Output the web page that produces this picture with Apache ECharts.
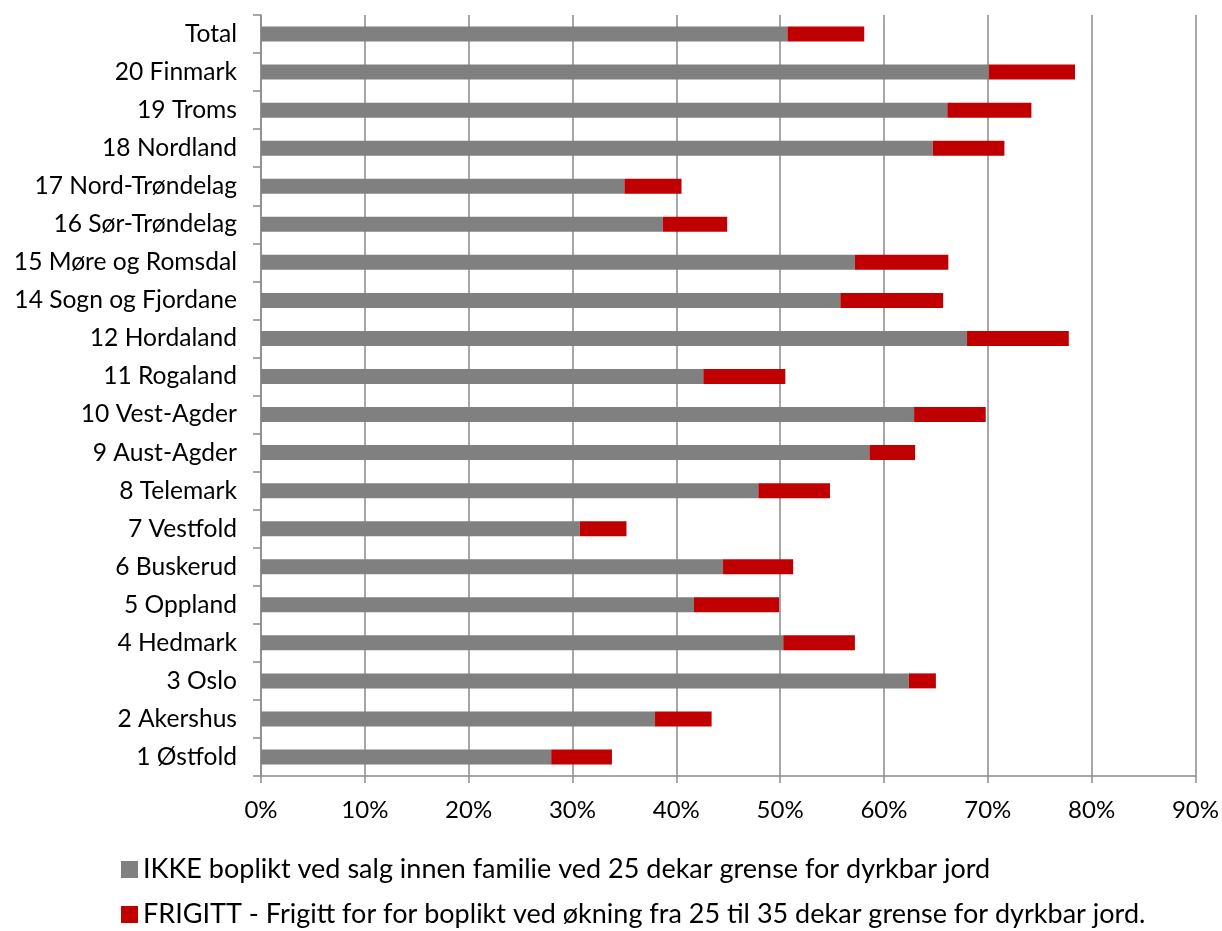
<!DOCTYPE html>
<html>
<head>
<meta charset="utf-8">
<script src="https://cdn.jsdelivr.net/npm/echarts@6/dist/echarts.min.js"></script>
<style>
  html, body { margin: 0; padding: 0; background: #fff; }
  #chart { width: 1222px; height: 931px; }
</style>
</head>
<body>
<div id="chart"></div>
<script>
// Counties, listed top to bottom
const categories = [
  'Total', '20 Finmark', '19 Troms', '18 Nordland', '17 Nord-Trøndelag',
  '16 Sør-Trøndelag', '15 Møre og Romsdal', '14 Sogn og Fjordane', '12 Hordaland',
  '11 Rogaland', '10 Vest-Agder', '9 Aust-Agder', '8 Telemark', '7 Vestfold',
  '6 Buskerud', '5 Oppland', '4 Hedmark', '3 Oslo', '2 Akershus', '1 Østfold'
];

// Share (%) with no residence obligation at the 25 dekar limit
const ikke = [
  50.7, 70.1, 66.1, 64.7, 35.0,
  38.7, 57.2, 55.8, 68.0,
  42.6, 62.9, 58.6, 47.9, 30.7,
  44.5, 41.7, 50.3, 62.4, 37.95, 27.95
];

// Additional share (%) released when the limit is raised from 25 to 35 dekar
const frigitt = [
  7.4, 8.3, 8.1, 6.9, 5.5,
  6.2, 9.0, 9.9, 9.8,
  7.9, 6.9, 4.4, 6.9, 4.5,
  6.75, 8.2, 6.9, 2.6, 5.45, 5.85
];

const seriesNames = [
  'IKKE boplikt ved salg innen familie ved 25 dekar grense for dyrkbar jord',
  'FRIGITT - Frigitt for for boplikt ved økning fra 25 til 35 dekar grense for dyrkbar jord.'
];

const xTicks = [0, 10, 20, 30, 40, 50, 60, 70, 80, 90];

const FONT = 'Lato';
const lineColor = '#8a8a8a';

const legendBase = {
  left: 116,
  itemWidth: 17,
  itemHeight: 17,
  itemGap: 10,
  icon: 'rect',
  textStyle: { fontFamily: FONT, fontSize: 27, color: '#000' }
};

const chart = echarts.init(document.getElementById('chart'), null, { renderer: 'canvas' });

chart.setOption({
  animation: false,
  backgroundColor: '#ffffff',
  textStyle: { fontFamily: FONT },
  grid: { left: 261, right: 25, top: 15, bottom: 155, containLabel: false },
  legend: [
    Object.assign({}, legendBase, { top: 851, data: [seriesNames[0]] }),
    Object.assign({}, legendBase, { top: 896, data: [seriesNames[1]] })
  ],
  xAxis: {
    type: 'value',
    min: xTicks[0],
    max: xTicks[xTicks.length - 1],
    interval: 10,
    axisLine: { show: true, lineStyle: { color: lineColor, width: 1.5 } },
    axisTick: { show: true, length: 7, lineStyle: { color: lineColor, width: 1.5 } },
    splitLine: { show: true, lineStyle: { color: lineColor, width: 1.5 } },
    axisLabel: {
      margin: 22,
      fontFamily: FONT,
      fontSize: 24,
      color: '#000',
      formatter: v => v + '%'
    }
  },
  yAxis: {
    type: 'category',
    inverse: true,
    data: categories,
    axisLine: { show: true, lineStyle: { color: lineColor, width: 1.5 } },
    axisTick: { show: true, length: 8, alignWithLabel: false, lineStyle: { color: lineColor, width: 1.5 } },
    axisLabel: {
      margin: 24,
      fontFamily: FONT,
      fontSize: 24.6,
      color: '#000'
    }
  },
  series: [
    {
      name: seriesNames[0],
      type: 'bar',
      stack: 'total',
      barWidth: 15,
      itemStyle: { color: '#808080' },
      data: ikke
    },
    {
      name: seriesNames[1],
      type: 'bar',
      stack: 'total',
      barWidth: 15,
      itemStyle: { color: '#c00000' },
      data: frigitt
    }
  ]
});
</script>
</body>
</html>
